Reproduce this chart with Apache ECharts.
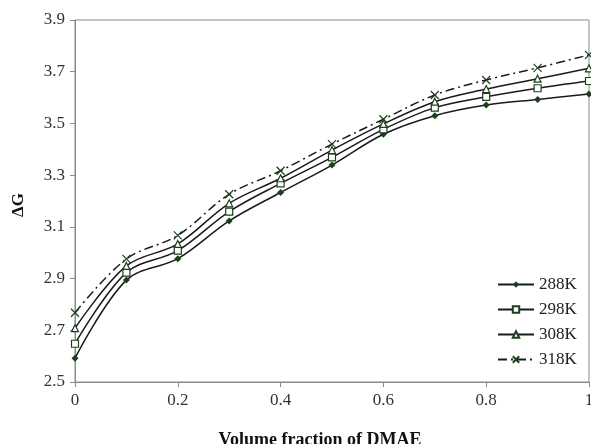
<!DOCTYPE html>
<html>
<head>
<meta charset="utf-8">
<script src="https://cdn.jsdelivr.net/npm/echarts@6/dist/echarts.min.js"></script>
<style>
  html, body { margin: 0; padding: 0; background: #fff; }
  #chart { width: 591px; height: 444px; }
</style>
</head>
<body>
<div id="chart"></div>
<script>
// Volume fraction of DMAE
const fractions = [0, 0.1, 0.2, 0.3, 0.4, 0.5, 0.6, 0.7, 0.8, 0.9, 1.0];

// Free energy ΔG at each temperature
const g288 = [2.592, 2.894, 2.977, 3.123, 3.233, 3.339, 3.458, 3.530, 3.571, 3.593, 3.614];
const g298 = [2.648, 2.923, 3.008, 3.159, 3.268, 3.369, 3.477, 3.561, 3.603, 3.636, 3.664];
const g308 = [2.708, 2.949, 3.034, 3.191, 3.288, 3.397, 3.498, 3.584, 3.633, 3.673, 3.713];
const g318 = [2.768, 2.976, 3.067, 3.226, 3.317, 3.420, 3.516, 3.610, 3.668, 3.715, 3.765];

const seriesNames = ['288K', '298K', '308K', '318K'];

const FONT = '"Liberation Serif", "Times New Roman", serif';
const LINE = '#1a1a1a';
const MARK = '#1d3f1d';
const AXIS = '#8a8a8a';

const pairs = vals => fractions.map((x, i) => [x, vals[i]]);

function makeSeries(name, vals, symbol, symbolSize, filled, dashed) {
  return {
    name: name,
    type: 'line',
    data: pairs(vals),
    smooth: 0.35,
    symbol: symbol,
    symbolSize: symbolSize,
    showAllSymbol: true,
    lineStyle: { color: LINE, width: 1.5, type: dashed ? [9, 4, 2, 4] : 'solid' },
    itemStyle: {
      color: filled ? MARK : '#ffffff',
      borderColor: MARK,
      borderWidth: filled ? 0 : 1.2
    },
    emphasis: { disabled: true },
    z: 3
  };
}

const chart = echarts.init(document.getElementById('chart'), null, { renderer: 'canvas' });

chart.setOption({
  animation: false,
  backgroundColor: '#ffffff',
  grid: {
    left: 75, right: 2, top: 20, bottom: 62,
    outerBoundsMode: 'none',
    show: true, borderColor: AXIS, borderWidth: 1
  },
  legend: {
    orient: 'vertical',
    left: 492,
    top: 271,
    itemWidth: 36,
    itemHeight: 8,
    itemGap: 8,
    textStyle: { fontFamily: FONT, fontSize: 17, color: '#222' },
    data: seriesNames
  },
  xAxis: {
    type: 'value',
    min: 0,
    max: 1,
    interval: 0.2,
    name: 'Volume fraction of DMAE',
    nameLocation: 'middle',
    nameGap: 49,
    nameTextStyle: { fontFamily: FONT, fontSize: 18, fontWeight: 'bold', color: '#111', padding: [0, 24, 0, 0] },
    axisLine: { lineStyle: { color: AXIS, width: 1 } },
    axisTick: { show: true, length: 5, lineStyle: { color: AXIS } },
    axisLabel: { fontFamily: FONT, fontSize: 17, color: '#333', margin: 10 },
    splitLine: { show: false }
  },
  yAxis: {
    type: 'value',
    min: 2.5,
    max: 3.9,
    interval: 0.2,
    name: 'ΔG',
    nameLocation: 'middle',
    nameGap: 48,
    nameRotate: 90,
    nameTextStyle: { fontFamily: FONT, fontSize: 17, fontWeight: 'bold', color: '#111', padding: [0, 8, 0, 0] },
    axisLine: { show: true, lineStyle: { color: AXIS, width: 1 } },
    axisTick: { show: true, length: 5, lineStyle: { color: AXIS } },
    axisLabel: { fontFamily: FONT, fontSize: 17, color: '#333', margin: 10, formatter: v => v.toFixed(1) },
    splitLine: { show: false }
  },
  series: [
    makeSeries('288K', g288, 'diamond', 7, true, false),
    makeSeries('298K', g298, 'rect', 7, false, false),
    makeSeries('308K', g308, 'triangle', 7, false, false),
    makeSeries('318K', g318, 'path://M0,0L10,10M10,0L0,10', 8, false, true)
  ]
});
</script>
</body>
</html>
